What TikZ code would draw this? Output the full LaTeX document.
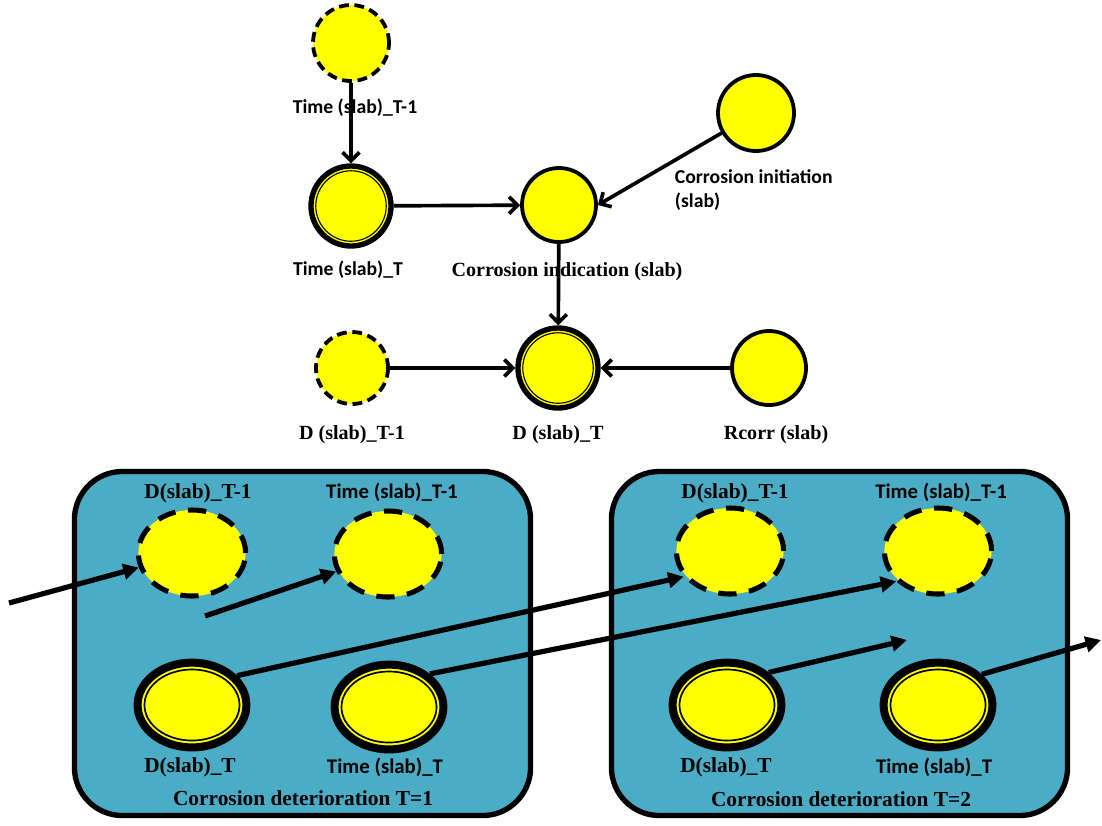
\documentclass[tikz,border=0pt]{standalone}
\usepackage{fontspec}
\setmainfont{Liberation Serif}
\newfontfamily\calibfont{Carlito}
\usetikzlibrary{shapes.geometric,arrows.meta,calc}
\definecolor{slabblue}{RGB}{75,172,198}
\definecolor{varyellow}{RGB}{255,255,0}

\begin{document}
\begin{tikzpicture}[x=0.025cm, y=-0.025cm,
  lbl/.style={font=\bfseries\fontsize{14.3}{16}\selectfont},
  lblb/.style={font=\bfseries\fontsize{15.2}{17}\selectfont},
  clbl/.style={font=\calibfont\bfseries\fontsize{14}{17}\selectfont, align=left},
  clblb/.style={font=\calibfont\bfseries\fontsize{14.8}{17}\selectfont},
  var/.style={circle, draw, fill=varyellow, line width=2.7pt, inner sep=0pt},
  prev/.style={var, dash pattern=on 7pt off 4pt},
  cur/.style={circle, draw, fill=varyellow, line width=3.8pt, inner sep=0pt,
    path picture={\draw[line width=0.8pt] let \p1=(path picture bounding box.east), \p2=(path picture bounding box.center)
      in (\p2) circle [radius=\x1-\x2-3.4pt];}},
  prevb/.style={ellipse, draw, fill=varyellow, line width=3.6pt, dash pattern=on 13pt off 9pt, inner sep=0pt,
    minimum width=2.68cm, minimum height=2.15cm},
  curb/.style={ellipse, draw, fill=varyellow, line width=5.7pt, inner sep=0pt, minimum width=2.72cm, minimum height=2.12cm,
    path picture={\draw[line width=1.2pt] let \p1=(path picture bounding box.north east), \p2=(path picture bounding box.center)
      in (\p2) ellipse [x radius=\x1-\x2-4.9pt, y radius=\y1-\y2-4.9pt];}},
  frame/.style={draw, fill=slabblue, line width=3.8pt, rounded corners=1.2cm, minimum width=11.4cm, minimum height=8.6cm},
  link/.style={-{Straight Barb[length=6pt,width=12pt]}, line width=2.6pt},
  flow/.style={-{Triangle[length=11pt,width=11pt]}, line width=3.7pt}]
\useasboundingbox (0,0) rectangle (1102,825);

% one time slice
\node[prev, minimum size=1.9cm] (tprev) at (351,43) {};
\node[clbl] (tprevlbl) at (355,108) {Time (slab)\_T-1};
\node[cur, minimum size=2cm] (tcur) at (351,206) {};
\node[clbl] (tcurlbl) at (348,270) {Time (slab)\_T};
\node[var, minimum size=1.85cm] (ind) at (559,205) {};
\node[lbl] (indlbl) at (567,272) {Corrosion indication (slab)};
\node[var, minimum size=1.9cm] (ini) at (756,113) {};
\node[clbl, anchor=west] (inilbl) at (670,190) {Corrosion initiation\\(slab)};
\node[prev, minimum size=1.8cm] (dprev) at (352,368) {};
\node[lbl] (dprevlbl) at (352,435) {D (slab)\_T-1};
\node[cur, minimum size=2cm] (dcur) at (558,368) {};
\node[lbl] (dcurlbl) at (558,435) {D (slab)\_T};
\node[var, minimum size=1.85cm] (rcorr) at (769,368) {};
\node[lbl] (rcorrlbl) at (776,435) {Rcorr (slab)};

\draw[link] (tprev) -- (tcur);
\draw[link] (tcur) -- (ind);
\draw[link] (ini) -- (ind.east);
\draw[link] (ind) -- (dcur);
\draw[link] (dprev) -- (dcur);
\draw[link] (rcorr) -- (dcur);

% unrolled slices
\node[frame] (slice1) at (302.5,643.5) {};
\node[frame] (slice2) at (839.5,643.5) {};

\node[prevb] (d1prev) at (192,553) {};
\node[prevb] (t1prev) at (388,554) {};
\node[curb] (d1) at (192,705) {};
\node[curb] (t1) at (389,707) {};
\node[lblb] (d1prevlbl) at (198,493) {D(slab)\_T-1};
\node[clblb] (t1prevlbl) at (392,492) {Time (slab)\_T-1};
\node[lblb] (d1lbl) at (190,767) {D(slab)\_T};
\node[clblb] (t1lbl) at (385,767) {Time (slab)\_T};
\node[lblb] (slice1lbl) at (303,798) {Corrosion deterioration T=1};

\node[prevb] (d2prev) at (730,551) {};
\node[prevb] (t2prev) at (938,551) {};
\node[curb] (d2) at (727,705) {};
\node[curb] (t2) at (938,705) {};
\node[lblb] (d2prevlbl) at (735,493) {D(slab)\_T-1};
\node[clblb] (t2prevlbl) at (941,492) {Time (slab)\_T-1};
\node[lblb] (d2lbl) at (726,767) {D(slab)\_T};
\node[clblb] (t2lbl) at (934,767) {Time (slab)\_T};
\node[lblb] (slice2lbl) at (841,799) {Corrosion deterioration T=2};

\coordinate (din) at (9,603);
\coordinate (tin) at (205,616);
\coordinate (dout) at (907,640);
\coordinate (tout) at (1101,640);

\draw[flow] (din) -- (d1prev);
\draw[flow] (tin) -- (t1prev);
\draw[flow] (d1.33) -- (d2prev.209);
\draw[flow] (t1.39) -- (t2prev.216);
\draw[flow] (d2.38) -- (dout);
\draw[flow] (t2.35) -- (tout);
\end{tikzpicture}
\end{document}
